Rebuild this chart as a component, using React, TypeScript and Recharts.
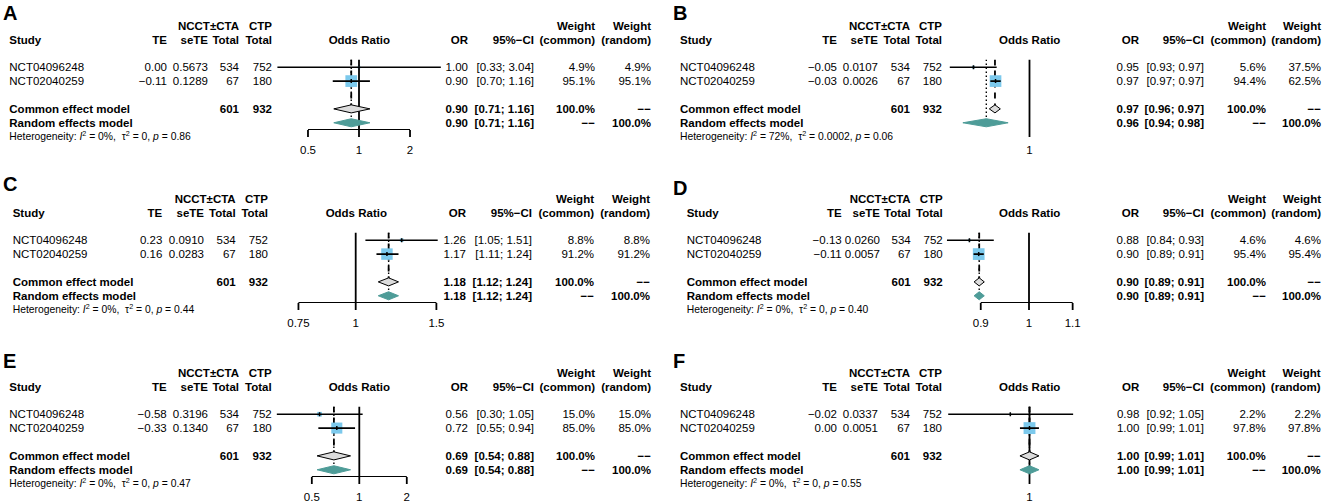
import React from 'react';
import { ScatterChart, Scatter, XAxis, YAxis } from 'recharts';

const FONT = '"Liberation Sans", Arial, Helvetica, sans-serif';
const SQUARE = '#7cc9ec';
const TEAL = '#4e9c98';
const GREYD = '#dcdcdc';

// ---------- shared data ----------
const studies = ['NCT04096248', 'NCT02040259'];
const totalNcct = [534, 67];
const totalCtp = [752, 180];
const sumNcct = 601;
const sumCtp = 932;

// ---------- panel A ----------
const teA = [0.0, -0.11];
const seA = [0.5673, 0.1289];
const orA = [1.0, 0.9];
const loA = [0.33, 0.7];
const hiA = [3.04, 1.16];
const wComA = [4.9, 95.1];
const wRanA = [4.9, 95.1];
const commonA = [0.9, 0.71, 1.16];
const randomA = [0.9, 0.71, 1.16];
const hetA = ['0%', '0', '0.86'];
const ticksA = [0.5, 1, 2];

// ---------- panel B ----------
const teB = [-0.05, -0.03];
const seB = [0.0107, 0.0026];
const orB = [0.951, 0.97];
const loB = [0.931, 0.9655];
const hiB = [0.971, 0.9745];
const wComB = [5.6, 94.4];
const wRanB = [37.5, 62.5];
const commonB = [0.9695, 0.9646, 0.9742];
const randomB = [0.962, 0.942, 0.981];
const hetB = ['72%', '0.0002', '0.06'];
const ticksB = [1];

// ---------- panel C ----------
const teC = [0.23, 0.16];
const seC = [0.091, 0.0283];
const orC = [1.26, 1.17];
const loC = [1.05, 1.11];
const hiC = [1.51, 1.24];
const wComC = [8.8, 91.2];
const wRanC = [8.8, 91.2];
const commonC = [1.18, 1.12, 1.24];
const randomC = [1.18, 1.12, 1.24];
const hetC = ['0%', '0', '0.44'];
const ticksC = [0.75, 1, 1.5];

// ---------- panel D ----------
const teD = [-0.13, -0.11];
const seD = [0.026, 0.0057];
const orD = [0.878, 0.896];
const loD = [0.836, 0.886];
const hiD = [0.926, 0.906];
const wComD = [4.6, 95.4];
const wRanD = [4.6, 95.4];
const commonD = [0.897, 0.887, 0.907];
const randomD = [0.897, 0.887, 0.907];
const hetD = ['0%', '0', '0.40'];
const ticksD = [0.9, 1, 1.1];

// ---------- panel E ----------
const teE = [-0.58, -0.33];
const seE = [0.3196, 0.134];
const orE = [0.56, 0.72];
const loE = [0.3, 0.55];
const hiE = [1.05, 0.94];
const wComE = [15.0, 85.0];
const wRanE = [15.0, 85.0];
const commonE = [0.69, 0.54, 0.88];
const randomE = [0.69, 0.54, 0.88];
const hetE = ['0%', '0', '0.47'];
const ticksE = [0.5, 1, 2];

// ---------- panel F ----------
const teF = [-0.02, 0.0];
const seF = [0.0337, 0.0051];
const orF = [0.98, 1.0];
const loF = [0.918, 0.99];
const hiF = [1.047, 1.01];
const wComF = [2.2, 97.8];
const wRanF = [2.2, 97.8];
const commonF = [1.0, 0.99, 1.01];
const randomF = [1.0, 0.99, 1.01];
const hetF = ['0%', '0', '0.55'];
const ticksF = [1];

// ---------- layout (pixel positions, not data) ----------
const layA = { id: 'A', ox: 0, oy: 0, lx: 3, ly: 20, study: 9.3, te: 167, se: 208, t1: 239, t2: 272, hdr: 359.3, or: 468, ci: 534, wc: 595, wr: 651, p1: 359, k: 73.6 };
const layB = { id: 'B', ox: 671, oy: 0, lx: 2, ly: 20, study: 9, te: 166, se: 207, t1: 239, t2: 271, hdr: 358.7, or: 468, ci: 533, wc: 595, wr: 650, p1: 358.5, k: 1115 };
const layC = { id: 'C', ox: 0, oy: 173, lx: 3, ly: 18, study: 12.7, te: 162.3, se: 204, t1: 235.7, t2: 268, hdr: 356.3, or: 466, ci: 532, wc: 594, wr: 650, p1: 355.7, k: 199 };
const layD = { id: 'D', ox: 671, oy: 173, lx: 2, ly: 22, study: 15.7, te: 170.7, se: 209, t1: 239.7, t2: 271.7, hdr: 358.7, or: 468, ci: 533, wc: 595, wr: 650, p1: 358, k: 458 };
const layE = { id: 'E', ox: 0, oy: 347, lx: 3, ly: 21, study: 9.3, te: 166.7, se: 208, t1: 239, t2: 271.7, hdr: 359.3, or: 468, ci: 534, wc: 595, wr: 651, p1: 359.3, k: 68.5 };
const layF = { id: 'F', ox: 671, oy: 347, lx: 2, ly: 21, study: 9, te: 166, se: 207, t1: 239, t2: 271, hdr: 358.7, or: 468.3, ci: 533, wc: 594.7, wr: 649.7, p1: 358.5, k: 950 };

const panels = [
  { lay: layA, te: teA, se: seA, or: orA, lo: loA, hi: hiA, wc: wComA, wr: wRanA, common: commonA, random: randomA, het: hetA, ticks: ticksA },
  { lay: layB, te: teB, se: seB, or: orB, lo: loB, hi: hiB, wc: wComB, wr: wRanB, common: commonB, random: randomB, het: hetB, ticks: ticksB },
  { lay: layC, te: teC, se: seC, or: orC, lo: loC, hi: hiC, wc: wComC, wr: wRanC, common: commonC, random: randomC, het: hetC, ticks: ticksC },
  { lay: layD, te: teD, se: seD, or: orD, lo: loD, hi: hiD, wc: wComD, wr: wRanD, common: commonD, random: randomD, het: hetD, ticks: ticksD },
  { lay: layE, te: teE, se: seE, or: orE, lo: loE, hi: hiE, wc: wComE, wr: wRanE, common: commonE, random: randomE, het: hetE, ticks: ticksE },
  { lay: layF, te: teF, se: seF, or: orF, lo: loF, hi: hiF, wc: wComF, wr: wRanF, common: commonF, random: randomF, het: hetF, ticks: ticksF },
];

const ROWS = [1, 2];
const COMMON_ROW = 4;
const RANDOM_ROW = 5;
const TOP = 0.45;
const BOTTOM = 5.52;
const DH = 0.29;

const W = 660;
const H = 160;
const PL = 265;
const PR = 455;

const Y_H1 = 29.6;
const Y_H2 = 43.9;
const Y_R = [71.3, 85.2];
const Y_COM = 113;
const Y_RAN = 126.9;
const Y_HET = 140;

const DASHES = '\u2212\u2212';
const minus = (s: string) => s.replace('-', '\u2212');
const f2 = (v: number) => minus(v.toFixed(2));
const f4 = (v: number) => minus(v.toFixed(4));
const ciStr = (lo: number, hi: number) => `[${lo.toFixed(2)}; ${hi.toFixed(2)}]`;
const pct = (v: number) => `${v.toFixed(1)}%`;

const none = () => <g />;

function T(props: any) {
  const { x, y, anchor = 'end', bold = false, size = 11.5, children } = props;
  return (
    <text x={x} y={y} textAnchor={anchor} fontWeight={bold ? 'bold' : 'normal'} fontSize={size} fontFamily={FONT} fill="#000">
      {children}
    </text>
  );
}

function Table({ p }: any) {
  const l = p.lay;
  return (
    <svg width={W} height={H} style={{ position: 'absolute', left: 0, top: 0, overflow: 'visible', pointerEvents: 'none' }}>
      <text x={l.lx} y={l.ly} fontSize={20} fontWeight="bold" fontFamily={FONT} fill="#000">{l.id}</text>
      <T x={l.t1} y={Y_H1} bold>NCCT±CTA</T>
      <T x={l.t2} y={Y_H1} bold>CTP</T>
      <T x={l.wc} y={Y_H1} bold>Weight</T>
      <T x={l.wr} y={Y_H1} bold>Weight</T>
      <T x={l.study} y={Y_H2} anchor="start" bold>Study</T>
      <T x={l.te} y={Y_H2} bold>TE</T>
      <T x={l.se} y={Y_H2} bold>seTE</T>
      <T x={l.t1} y={Y_H2} bold>Total</T>
      <T x={l.t2} y={Y_H2} bold>Total</T>
      <T x={l.hdr} y={Y_H2} anchor="middle" bold>Odds Ratio</T>
      <T x={l.or} y={Y_H2} bold>OR</T>
      <T x={l.ci} y={Y_H2} bold>95%−CI</T>
      <T x={l.wc} y={Y_H2} bold>(common)</T>
      <T x={l.wr} y={Y_H2} bold>(random)</T>
      {studies.map((s, i) => (
        <g key={s}>
          <T x={l.study} y={Y_R[i]} anchor="start">{s}</T>
          <T x={l.te} y={Y_R[i]}>{f2(p.te[i])}</T>
          <T x={l.se} y={Y_R[i]}>{f4(p.se[i])}</T>
          <T x={l.t1} y={Y_R[i]}>{totalNcct[i]}</T>
          <T x={l.t2} y={Y_R[i]}>{totalCtp[i]}</T>
          <T x={l.or} y={Y_R[i]}>{f2(p.or[i])}</T>
          <T x={l.ci} y={Y_R[i]}>{ciStr(p.lo[i], p.hi[i])}</T>
          <T x={l.wc} y={Y_R[i]}>{pct(p.wc[i])}</T>
          <T x={l.wr} y={Y_R[i]}>{pct(p.wr[i])}</T>
        </g>
      ))}
      <T x={l.study} y={Y_COM} anchor="start" bold>Common effect model</T>
      <T x={l.t1} y={Y_COM} bold>{sumNcct}</T>
      <T x={l.t2} y={Y_COM} bold>{sumCtp}</T>
      <T x={l.or} y={Y_COM} bold>{f2(p.common[0])}</T>
      <T x={l.ci} y={Y_COM} bold>{ciStr(p.common[1], p.common[2])}</T>
      <T x={l.wc} y={Y_COM} bold>100.0%</T>
      <T x={l.wr} y={Y_COM} bold>{DASHES}</T>
      <T x={l.study} y={Y_RAN} anchor="start" bold>Random effects model</T>
      <T x={l.or} y={Y_RAN} bold>{f2(p.random[0])}</T>
      <T x={l.ci} y={Y_RAN} bold>{ciStr(p.random[1], p.random[2])}</T>
      <T x={l.wc} y={Y_RAN} bold>{DASHES}</T>
      <T x={l.wr} y={Y_RAN} bold>100.0%</T>
      <text x={l.study} y={Y_HET} fontSize={10.35} fontFamily={FONT} fill="#000" style={{ whiteSpace: 'pre' }}>
        <tspan>Heterogeneity: </tspan>
        <tspan fontStyle="italic">I</tspan>
        <tspan dy={-4} fontSize={7.2}>2</tspan>
        <tspan dy={4}>{` = ${p.het[0]},  `}</tspan>
        <tspan>τ</tspan>
        <tspan dy={-4} fontSize={7.2}>2</tspan>
        <tspan dy={4}>{` = ${p.het[1]}, `}</tspan>
        <tspan fontStyle="italic">p</tspan>
        <tspan>{` = ${p.het[2]}`}</tspan>
      </text>
    </svg>
  );
}

function Forest({ p }: any) {
  const l = p.lay;
  const dmin = Math.exp((PL - l.p1) / l.k);
  const dmax = Math.exp((PR - l.p1) / l.k);
  const refData = [{ x: 1, y: TOP }, { x: 1, y: BOTTOM }];
  const axisData = p.ticks.length > 1 ? [{ x: p.ticks[0], y: BOTTOM }, { x: p.ticks[p.ticks.length - 1], y: BOTTOM }] : [];
  const comLine = [{ x: p.common[0], y: TOP }, { x: p.common[0], y: COMMON_ROW }];
  const ranLine = [{ x: p.random[0], y: TOP }, { x: p.random[0], y: RANDOM_ROW }];
  const sq = studies.map((s, i) => ({ x: p.or[i], y: ROWS[i], w: p.wc[i] }));
  const diamond = (d: number[], row: number) => [
    { x: d[1], y: row },
    { x: d[0], y: row - DH },
    { x: d[2], y: row },
    { x: d[0], y: row + DH },
    { x: d[1], y: row },
  ];
  const squareShape = (props: any) => {
    const s = 12 * Math.sqrt(props.payload.w / 100);
    return <rect x={props.cx - s / 2} y={props.cy - s / 2} width={s} height={s} fill={SQUARE} />;
  };
  const tickShape = (props: any) => (
    <line x1={props.cx} x2={props.cx} y1={props.cy - 2} y2={props.cy + 2} stroke="#000" strokeWidth={1.5} />
  );
  return (
    <div style={{ position: 'absolute', left: 0, top: 0 }}>
      <ScatterChart width={W} height={H} margin={{ top: 59.55, right: W - PR, bottom: 0, left: PL }}>
        <XAxis
          type="number"
          dataKey="x"
          scale="log"
          domain={[dmin, dmax]}
          allowDataOverflow
          ticks={p.ticks}
          interval={0}
          tickFormatter={(v: number) => String(v)}
          axisLine={false}
          tickLine={{ stroke: '#000', strokeWidth: 1.8 }}
          tickSize={7}
          tickMargin={8.6}
          tick={{ fill: '#000', fontSize: 11.5, fontFamily: FONT }}
          height={30}
        />
        <YAxis type="number" dataKey="y" domain={[TOP, BOTTOM]} reversed allowDataOverflow hide width={0} />
        <Scatter data={refData} shape={none} line={{ stroke: '#000', strokeWidth: 1.8 }} isAnimationActive={false} />
        {axisData.length > 0 && (
          <Scatter data={axisData} shape={none} line={{ stroke: '#000', strokeWidth: 1.8 }} isAnimationActive={false} />
        )}
        <Scatter data={comLine} shape={none} line={{ stroke: '#000', strokeWidth: 1.8, strokeDasharray: '6 5' }} isAnimationActive={false} />
        <Scatter data={ranLine} shape={none} line={{ stroke: '#000', strokeWidth: 1.4, strokeDasharray: '1.4 2.6' }} isAnimationActive={false} />
        <Scatter data={sq} shape={squareShape} isAnimationActive={false} />
        {studies.map((s, i) => (
          <Scatter
            key={s}
            data={[{ x: p.lo[i], y: ROWS[i] }, { x: p.hi[i], y: ROWS[i] }]}
            shape={none}
            line={{ stroke: '#000', strokeWidth: 1.6 }}
            isAnimationActive={false}
          />
        ))}
        <Scatter data={sq} shape={tickShape} isAnimationActive={false} />
        <Scatter data={diamond(p.common, COMMON_ROW)} shape={none} line={{ fill: GREYD, stroke: '#000', strokeWidth: 1 }} isAnimationActive={false} />
        <Scatter data={diamond(p.random, RANDOM_ROW)} shape={none} line={{ fill: TEAL, stroke: TEAL, strokeWidth: 1 }} isAnimationActive={false} />
      </ScatterChart>
    </div>
  );
}

export default function App() {
  return (
    <div style={{ position: 'absolute', left: 0, top: 0, width: 1325, height: 504, background: '#fff', overflow: 'hidden' }}>
      {panels.map((p) => (
        <div key={p.lay.id} style={{ position: 'absolute', left: p.lay.ox, top: p.lay.oy, width: W, height: H }}>
          <Forest p={p} />
          <Table p={p} />
        </div>
      ))}
    </div>
  );
}
